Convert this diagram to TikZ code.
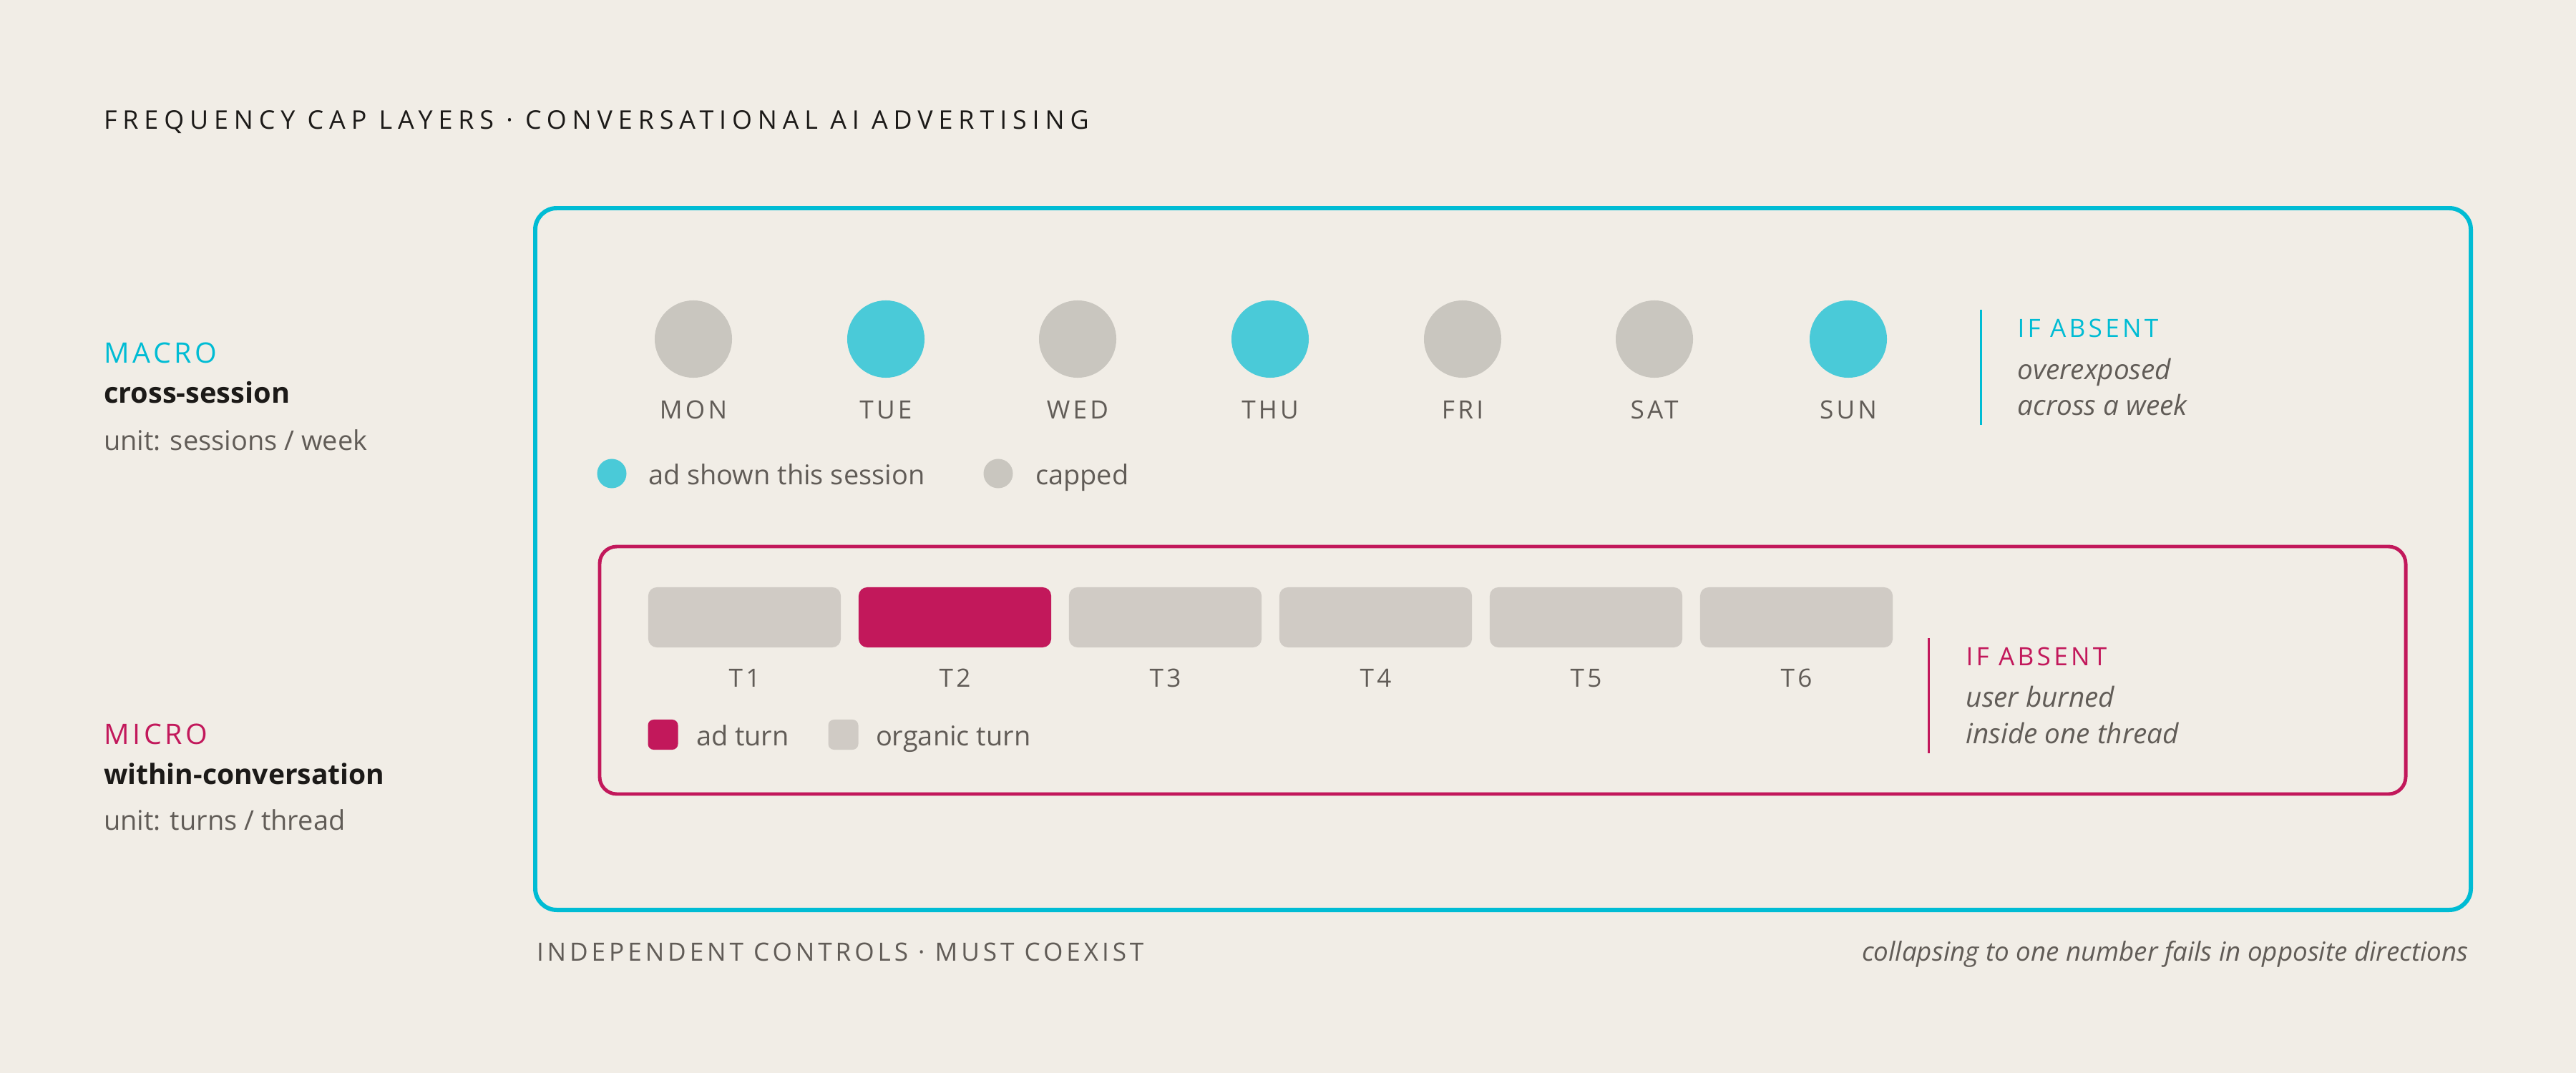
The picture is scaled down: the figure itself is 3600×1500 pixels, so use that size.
\documentclass[tikz,border=0pt]{standalone}
\usepackage{fontspec}
\setmainfont{Open Sans}
\newfontfamily\trk[LetterSpace=12]{Open Sans}
\newfontfamily\trkf[LetterSpace=14]{Open Sans}
\newfontfamily\trkw[LetterSpace=22]{Open Sans}
\definecolor{bg}{HTML}{F1EDE6}
\definecolor{cyanline}{HTML}{00BCD4}
\definecolor{cyanfill}{HTML}{4ACAD8}
\definecolor{graydot}{HTML}{C9C6BF}
\definecolor{grayturn}{HTML}{D0CBC5}
\definecolor{crim}{HTML}{C2185B}
\definecolor{txtgray}{HTML}{615C57}
\definecolor{txtdark}{HTML}{1C1A18}
\begin{document}
\begin{tikzpicture}[x=0.01cm,y=-0.01cm,
  txt/.style={inner sep=0,outer sep=0,anchor=base west,text=txtgray},
  dotnode/.style={circle,inner sep=0,minimum size=1.08cm},
  daylbl/.style={inner sep=0,anchor=base,text=txtgray,font=\trk\fontsize{10pt}{12pt}\selectfont},
  turnbox/.style={rectangle,inner sep=0,minimum width=2.69cm,minimum height=0.84cm,rounded corners=0.12cm},
  turnlbl/.style={inner sep=0,anchor=base,text=txtgray,font=\trk\fontsize{10pt}{12pt}\selectfont},
  legdot/.style={circle,inner sep=0,minimum size=0.41cm},
  legsq/.style={rectangle,inner sep=0,minimum size=0.42cm,rounded corners=0.08cm},
  ifabs/.style={inner sep=0,anchor=base west,font=\trk\fontsize{10pt}{12pt}\selectfont},
  itl/.style={inner sep=0,anchor=base west,text=txtgray,font=\itshape\fontsize{11pt}{13pt}\selectfont},
]
\useasboundingbox[fill=bg] (0,0) rectangle (3600,1500);

% title
\node[txt,text=txtdark,font=\trkw\fontsize{10.2pt}{12pt}\selectfont] (title) at (145,181) {FREQUENCY CAP LAYERS · CONVERSATIONAL AI ADVERTISING};

% left labels
\node[txt,text=cyanline,font=\trk\fontsize{11.2pt}{13pt}\selectfont] (macro) at (145,507) {MACRO};
\node[txt,text=txtdark,font=\bfseries\fontsize{11.3pt}{13pt}\selectfont] (cross) at (145,563) {cross-session};
\node[txt,font=\fontsize{10.8pt}{13pt}\selectfont] (unitA) at (145,629) {unit: sessions / week};
\node[txt,text=crim,font=\trk\fontsize{11.2pt}{13pt}\selectfont] (micro) at (145,1040) {MICRO};
\node[txt,text=txtdark,font=\bfseries\fontsize{11.1pt}{13pt}\selectfont] (within) at (145,1096) {within-conversation};
\node[txt,font=\fontsize{10.8pt}{13pt}\selectfont] (unitB) at (145,1160) {unit: turns / thread};

% outer box
\draw[cyanline,line width=1.7pt,rounded corners=0.3cm] (748,291) rectangle (3453,1272);

% days
\foreach \nm/\lbl/\cx/\col in {mon/MON/969/graydot,tue/TUE/1238/cyanfill,wed/WED/1506/graydot,thu/THU/1775/cyanfill,fri/FRI/2044/graydot,sat/SAT/2312/graydot,sun/SUN/2583/cyanfill}{
  \node[dotnode,fill=\col] (\nm) at (\cx,474) {};
  \node[daylbl] (\nm-l) at (\cx,585) {\lbl};
}

% macro legend
\node[legdot,fill=cyanfill] (lgA) at (855,662) {};
\node[txt,font=\fontsize{10.8pt}{12pt}\selectfont] (lgAt) at (906,677) {ad shown this session};
\node[legdot,fill=graydot] (lgB) at (1395,662) {};
\node[txt,font=\fontsize{10.8pt}{12pt}\selectfont] (lgBt) at (1447,677) {capped};

% macro if absent
\coordinate (mA1) at (2768,433);
\coordinate (mA2) at (2768,594);
\draw[cyanline,line width=0.85pt] (mA1) -- (mA2);
\node[ifabs,text=cyanline] (ifA) at (2819,471) {IF ABSENT};
\node[itl] (ifA1) at (2819,530) {overexposed};
\node[itl] (ifA2) at (2819,580) {across a week};

% micro box
\draw[crim,line width=1.4pt,rounded corners=0.24cm] (838,764) rectangle (3362,1110);

% turns
\foreach \nm/\lbl/\cx/\col in {t1/T1/1040.5/grayturn,t2/T2/1334.5/crim,t3/T3/1628.5/grayturn,t4/T4/1922.5/grayturn,t5/T5/2216.5/grayturn,t6/T6/2510.5/grayturn}{
  \node[turnbox,fill=\col] (\nm) at (\cx,863) {};
  \node[turnlbl] (\nm-l) at (\cx,960) {\lbl};
}

% micro legend
\node[legsq,fill=crim] (lgC) at (926.5,1027) {};
\node[txt,font=\fontsize{10.8pt}{12pt}\selectfont] (lgCt) at (973,1042) {ad turn};
\node[legsq,fill=grayturn] (lgD) at (1178.5,1027) {};
\node[txt,font=\fontsize{10.8pt}{12pt}\selectfont] (lgDt) at (1224,1042) {organic turn};

% micro if absent
\coordinate (mB1) at (2695,892);
\coordinate (mB2) at (2695,1053);
\draw[crim,line width=0.85pt] (mB1) -- (mB2);
\node[ifabs,text=crim] (ifB) at (2747,930) {IF ABSENT};
\node[itl] (ifB1) at (2747,988) {user burned};
\node[itl] (ifB2) at (2747,1039) {inside one thread};

% footer
\node[txt,font=\trkf\fontsize{10pt}{12pt}\selectfont] (foot) at (750,1343) {INDEPENDENT CONTROLS · MUST COEXIST};
\node[inner sep=0,anchor=base east,text=txtgray,font=\itshape\fontsize{10.45pt}{12pt}\selectfont] (footR) at (3450,1343) {collapsing to one number fails in opposite directions};
\end{tikzpicture}
\end{document}
